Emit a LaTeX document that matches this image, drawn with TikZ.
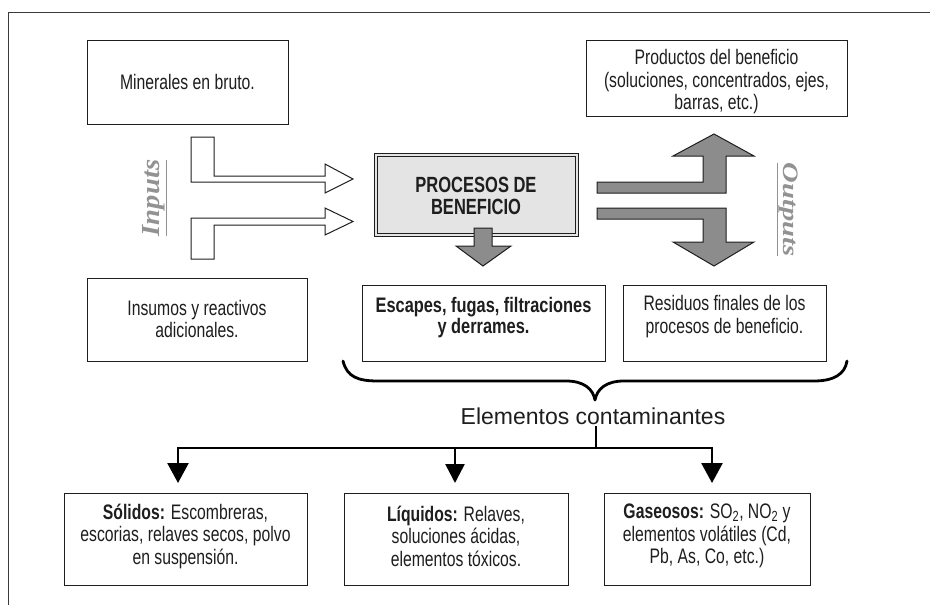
\documentclass[tikz,border=0pt]{standalone}
\usepackage{fontspec}
\setmainfont{Liberation Sans}
\newfontfamily\condfont{Liberation Sans}[FakeStretch=0.75]
\newfontfamily\condfontB{Liberation Sans}[FakeStretch=0.78]
\newfontfamily\iofontA{Liberation Serif}[FakeStretch=1.1]
\newfontfamily\iofontB{Liberation Serif}[FakeStretch=1.3]
\usetikzlibrary{arrows.meta}
\definecolor{boxc}{HTML}{1E1E1E}
\definecolor{framec}{HTML}{3A3A3A}
\definecolor{arrgray}{HTML}{8C8C8C}
\definecolor{procfill}{HTML}{E4E4E4}
\definecolor{iogray}{HTML}{929292}
\begin{document}
\begin{tikzpicture}[x=1pt,y=-1pt,
  box/.style={draw=boxc, line width=1.2pt, fill=white, inner sep=0pt, anchor=north west},
  txt/.style={align=center, font=\condfont\fontsize{21}{22.5}\selectfont, inner sep=0pt, text=boxc},
  blockw/.style={draw=boxc, line width=1pt, fill=white, line join=miter},
  blockg/.style={draw=boxc, line width=1pt, fill=arrgray, line join=miter},
  conn/.style={draw=black, line width=2.6pt},
  arr/.style={conn, -{Triangle[width=21pt,length=20pt]}, shorten >=10pt},
  iotxt/.style={text=iogray, inner sep=0pt}
  ]
\useasboundingbox (0,0) rectangle (930,605);
\draw[framec, line width=1pt] (8.5,605) -- (8.5,12.5) -- (930,12.5);

% top boxes
\node[box, minimum width=201pt, minimum height=84pt] (minb) at (87,40) {};
\node[txt] (mint) at (187.5,82) {Minerales en bruto.};
\node[box, minimum width=261pt, minimum height=76pt] (prob) at (586,40) {};
\node[txt] (prot) at (716.5,82) {Productos del beneficio\\(soluciones, concentrados, ejes,\\barras, etc.)};

% process box
\node[draw=boxc, line width=1pt, fill=procfill, inner sep=0pt, anchor=north west,
      minimum width=204pt, minimum height=83pt] (proc) at (374,153) {};
\draw[boxc, line width=0.9pt] ([shift={(3.5,3.5)}]proc.north west) rectangle ([shift={(-3.5,-3.5)}]proc.south east);
\node[txt, font=\condfont\bfseries\fontsize{22}{22}\selectfont] (proct) at (476,196) {PROCESOS DE\\BENEFICIO};

% input block arrows
\draw[blockw] (191,137) -- (214,137) -- (214,176) -- (325,176) -- (325,164) -- (353,179)
  -- (325,193) -- (325,182) -- (191,182) -- cycle;
\draw[blockw] (191,259) -- (214,259) -- (214,225) -- (325,225) -- (325,235) -- (353,221.5)
  -- (325,208) -- (325,218) -- (191,218) -- cycle;

% output block arrows
\draw[blockg] (597,182) -- (703,182) -- (703,156) -- (673,156) -- (714,134) -- (754,156)
  -- (726,156) -- (726,193) -- (597,193) -- cycle;
\draw[blockg] (597,208) -- (726,208) -- (726,242) -- (754,242) -- (714,266) -- (673,242)
  -- (703,242) -- (703,219) -- (597,219) -- cycle;

% down arrow from process
\draw[blockg] (474,228) -- (492,228) -- (492,246) -- (511,246) -- (483,266) -- (456,246)
  -- (474,246) -- cycle;

% Inputs / Outputs labels
\node[iotxt, rotate=90, font=\iofontA\bfseries\itshape\fontsize{26}{28}\selectfont] (inp) at (155,198) {\underline{Inputs}};
\node[iotxt, rotate=-90, font=\iofontB\bfseries\itshape\fontsize{22}{24}\selectfont] (outp) at (787.5,209.5) {\underline{Outputs}};

% middle boxes
\node[box, minimum width=220pt, minimum height=83pt] (insb) at (87,278) {};
\node[txt] (inst) at (197,319) {Insumos y reactivos\\adicionales.};
\node[box, minimum width=243pt, minimum height=76pt] (escb) at (362,285) {};
\node[txt, font=\condfontB\bfseries\fontsize{21}{21.5}\selectfont] (esct) at (483.5,317.5) {Escapes, fugas, filtraciones\\y derrames.};
\node[box, minimum width=203pt, minimum height=76pt] (resb) at (623,285) {};
\node[txt] (rest) at (724.5,316.5) {Residuos finales de los\\procesos de beneficio.};

% brace
\draw[black, line width=2.8pt, line cap=round, line join=round]
  (343,361) .. controls (347,377) and (358,381) .. (378,381) -- (566,381)
  .. controls (584,381) and (593,389) .. (595,400)
  .. controls (597,389) and (606,381) .. (624,381) -- (814,381)
  .. controls (834,381) and (845,374) .. (847,361);

% contaminants
\node[anchor=base, inner sep=2pt, font=\fontsize{23}{26}\selectfont, text=boxc] (elem) at (593,424) {Elementos contaminantes};
\coordinate (j) at (596,448);
\coordinate (jl) at (178,448);
\coordinate (jm) at (455,448);
\coordinate (jr) at (712,448);

\node[box, minimum width=243pt, minimum height=92pt] (solb) at (64,493) {};
\node[txt] (solt) at (185.5,536) {\textbf{Sólidos:} Escombreras,\\escorias, relaves secos, polvo\\en suspensión.};
\node[box, minimum width=224pt, minimum height=92pt] (liqb) at (344,493) {};
\node[txt] (liqt) at (456,536) {\textbf{Líquidos:} Relaves,\\soluciones ácidas,\\elementos tóxicos.};
\node[box, minimum width=206pt, minimum height=92pt] (gasb) at (604,493) {};
\node[txt] (gast) at (707,536) {\textbf{Gaseosos:} SO\textsubscript{2}, NO\textsubscript{2} y\\elementos volátiles (Cd,\\Pb, As, Co, etc.)};

\draw[conn] (elem.south -| j) -- (j);
\draw[conn, line cap=rect] (jl) -- (jr);
\draw[arr] (jl) -- (jl |- solb.north);
\draw[arr, -{Triangle[width=19pt,length=19pt]}] (jm) -- (jm |- liqb.north);
\draw[arr] (jr) -- (jr |- gasb.north);
\end{tikzpicture}
\end{document}
